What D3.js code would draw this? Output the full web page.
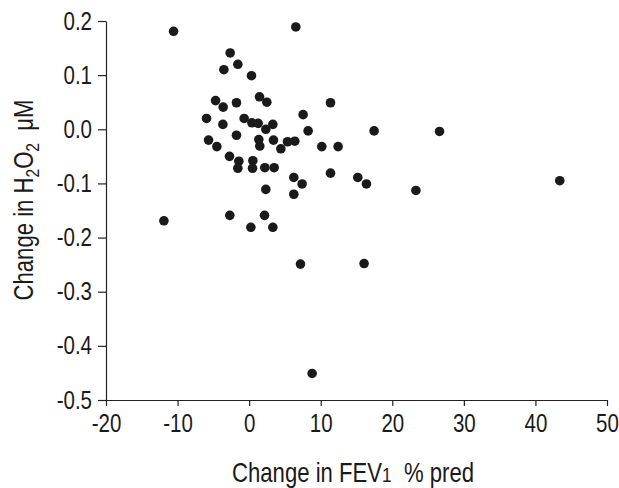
<!DOCTYPE html>
<html><head><meta charset="utf-8">
<script src="https://cdn.jsdelivr.net/npm/d3@7"></script>
<style>body{margin:0;background:#fff}svg{display:block}</style>
</head><body>
<svg id="c" width="619" height="488"></svg>
<script>
const xTicks = [-20,-10,0,10,20,30,40,50];
const yTicks = [0.2,0.1,0.0,-0.1,-0.2,-0.3,-0.4,-0.5];
const fevChange = [-10.56,6.52,-2.65,-1.58,-3.53,0.33,1.45,2.47,-4.69,-3.63,-1.77,11.37,7.54,-5.95,-3.67,-0.7,0.38,1.26,3.31,2.33,8.24,17.46,-1.77,-5.67,-4.51,1.35,1.49,3.4,4.43,5.36,6.38,10.15,12.43,-2.74,-1.44,-1.58,0.52,0.47,2.19,3.49,6.24,7.40,11.37,15.18,16.39,2.33,6.24,-11.91,-2.7,2.15,0.24,3.31,7.17,16.06,8.80,26.6,43.4,23.3];
const h2o2Change = [0.181,0.189,0.141,0.120,0.110,0.099,0.060,0.050,0.053,0.041,0.049,0.049,0.027,0.020,0.009,0.020,0.012,0.011,0.009,0.0,-0.003,-0.003,-0.011,-0.020,-0.032,-0.019,-0.031,-0.020,-0.036,-0.023,-0.022,-0.032,-0.032,-0.050,-0.059,-0.072,-0.058,-0.072,-0.071,-0.071,-0.089,-0.101,-0.081,-0.089,-0.101,-0.111,-0.120,-0.169,-0.159,-0.159,-0.181,-0.181,-0.249,-0.248,-0.451,-0.004,-0.095,-0.113];

const font = "'Liberation Sans',Arial,sans-serif";
const SX = 0.82;
const ink = "#1a1a1a";
const svg = d3.select("#c");
const x = d3.scaleLinear().domain([-20,50]).range([106,607]);
const y = d3.scaleLinear().domain([-0.5,0.2]).range([400,21]);
const fmtY = v => (v<0?"-":"") + Math.abs(v).toFixed(1);
const fmtX = v => (v<0?"-":"") + Math.abs(v);

const gx = svg.append("g").attr("transform","translate(0,400)")
  .call(d3.axisBottom(x).tickValues(xTicks).tickFormat(fmtX).tickSize(6).tickPadding(8).tickSizeOuter(0));
const gy = svg.append("g").attr("transform","translate(106,0)")
  .call(d3.axisLeft(y).tickValues(yTicks).tickFormat(fmtY).tickSize(8).tickPadding(6).tickSizeOuter(0));
[gx,gy].forEach(g=>{
  g.selectAll("path,line").attr("stroke","#222").attr("stroke-width",1.2);
  g.selectAll("text").attr("fill",ink).style("font-family",font).style("font-size","25px")
    .each(function(){
      const t = d3.select(this);
      const tx = +t.attr("x")||0, ty = +t.attr("y")||0;
      t.attr("transform",`translate(${tx},${ty}) scale(${SX},1)`).attr("x",0).attr("y",0);
    });
});

svg.append("g").selectAll("circle").data(fevChange).join("circle")
  .attr("cx",(d)=>x(d)).attr("cy",(d,i)=>y(h2o2Change[i])).attr("r",4.8).attr("fill",ink);

const xt = svg.append("text").attr("transform",`translate(353,481.5) scale(${SX},1)`).attr("text-anchor","middle")
  .style("font-family",font).style("font-size","27px").attr("fill",ink);
xt.append("tspan").text("Change in FEV");
xt.append("tspan").text("1").style("font-size","21px");
xt.append("tspan").text("\u00a0 % pred");

const yt = svg.append("text").attr("transform",`translate(33,200) rotate(-90) scale(${SX},1)`).attr("text-anchor","middle")
  .style("font-family",font).style("font-size","27px").attr("fill",ink);
yt.append("tspan").text("Change in H");
yt.append("tspan").text("2").style("font-size","19px").attr("dy",6);
yt.append("tspan").text("O").attr("dy",-6);
yt.append("tspan").text("2").style("font-size","19px").attr("dy",6);
yt.append("tspan").text("\u00a0 \u03bcM").attr("dy",-6);
</script>
</body></html>
